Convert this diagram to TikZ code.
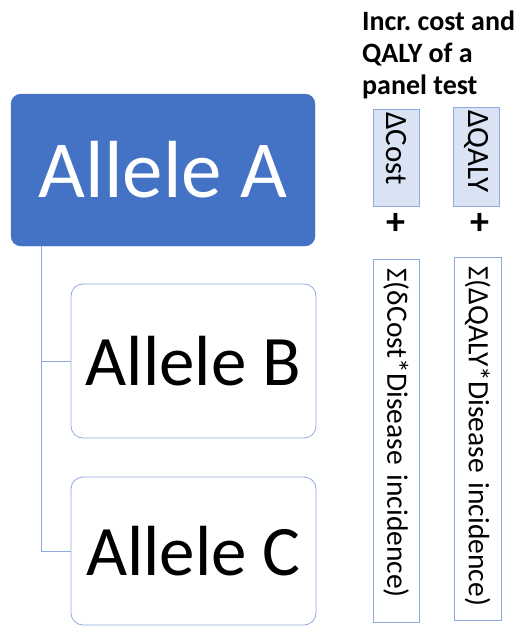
\documentclass[tikz,border=0pt]{standalone}
\usepackage{fontspec}
\setmainfont{Carlito}
\usetikzlibrary{positioning, calc}

\definecolor{accentblue}{HTML}{4472C4}
\definecolor{lineblue}{HTML}{8FAADC}
\definecolor{paleblue}{HTML}{DAE3F3}

\begin{document}
\begin{tikzpicture}[x=1pt, y=-1pt,
    rootbox/.style={draw=accentblue, fill=accentblue, rounded corners=10pt, minimum width=304pt, minimum height=152pt, text=white, font=\fontsize{81}{90}\selectfont},
    childbox/.style={draw=lineblue, line width=0.8pt, fill=white, rounded corners=12pt, minimum width=245pt, font=\fontsize{71}{80}\selectfont},
    branch/.style={draw=lineblue, line width=0.8pt},
    cellbox/.style={draw=lineblue, line width=0.8pt, rotate=-90, anchor=west, inner sep=0pt, align=left},
    deltacell/.style={cellbox, fill=paleblue, minimum height=46pt, font=\fontsize{31}{32}\selectfont},
    sumcell/.style={cellbox, fill=white, minimum height=46pt, font=\fontsize{29.5}{32}\selectfont},
    plus/.style={font=\fontsize{38}{38}\selectfont\bfseries, inner sep=0pt}]
    \useasboundingbox (0,0) rectangle (524,626);

    % Allele hierarchy
    \node[rootbox] (alleleA) at (163,170) {Allele A};
    \node[childbox, minimum height=154pt] (alleleB) at (193.5,361) {Allele B};
    \node[childbox, minimum height=148pt] (alleleC) at (193.5,551) {Allele C};

    \draw[branch] ($(alleleA.south west)+(31,0)$) |- (alleleB.west);
    \draw[branch] ($(alleleA.south west)+(31,0)$) |- (alleleC.west);

    % Panel test heading
    \node[anchor=north west, align=left, inner sep=0pt, font=\fontsize{28}{32}\selectfont\bfseries] (heading) at (362,11)
        {Incr.\ cost and\\QALY of a\\panel test};

    % Incremental cost and QALY columns
    \node[deltacell, text width=97pt] (dcost) at (396,109) {\hspace{3pt}ΔCost};
    \node[deltacell, text width=99pt] (dqaly) at (476.5,107) {\hspace{3pt}ΔQALY};

    \node[plus] (plusA) at (396,224) {+};
    \node[plus] (plusB) at (480,224) {+};

    \node[sumcell, text width=363pt] (scost) at (396,259) {\hspace{9pt}Σ(δCost*Disease incidence)};
    \node[sumcell, text width=363pt, minimum height=47pt] (sqaly) at (477.5,257) {\hspace{9pt}Σ(ΔQALY*Disease incidence)};
\end{tikzpicture}
\end{document}
